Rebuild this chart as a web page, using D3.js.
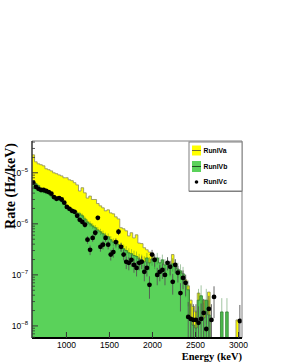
<!DOCTYPE html>
<html>
<head>
<meta charset="utf-8">
<script src="https://cdn.jsdelivr.net/npm/d3@7"></script>
<style>
  body { margin: 0; background: #fff; }
  svg { display: block; }
</style>
</head>
<body>
<svg id="chart" width="281" height="363"></svg>
<script>
// Histogram binning (keV)
const binStart = 600;
const binWidth = 30;

// Rate (Hz/keV) per bin
const runIVa = [
  2.25e-5, 1.64e-5, 1.5e-5, 1.44e-5, 1.37e-5, 1.2e-5, 1.15e-5, 1.09e-5, 1.0e-5, 9.6e-6,
  9.1e-6, 8.7e-6, 8.0e-6, 8.0e-6, 7.3e-6, 7.0e-6, 6.4e-6, 5.8e-6, 4.4e-6, 5.1e-6,
  4.05e-6, 3.2e-6, 3.5e-6, 3.0e-6, 3.0e-6, 2.5e-6, 2.25e-6, 2.06e-6, 1.8e-6, 1.88e-6,
  1.64e-6, 1.57e-6, 1.37e-6, 1.25e-6, 8.4e-7, 8.0e-7, 7.3e-7, 5.8e-7, 6.7e-7, 5.3e-7,
  6.1e-7, 4.2e-7, 4.1e-7, 3.4e-7, 3.1e-7, 2.8e-7, 2.5e-7, 2.15e-7, 1.88e-7, 1.64e-7,
  1.8e-7, 1.5e-7, 1.8e-7, 1.57e-7, 2.5e-7, 1.44e-7, 1.25e-7, 1.15e-7, 9.6e-8, 8.0e-8,
  6.1e-8, 3.2e-8, 2.4e-8, 1.88e-8, 4.4e-8, 1.44e-8, 3.2e-8, 2.06e-8, 4.6e-8, 0,
  0, 0, 0, 0, 0, 0, 0, 0, 0, 1.31e-8,
  0
];

const runIVb = [
  6.7e-6, 6.1e-6, 5.6e-6, 4.85e-6, 4.2e-6, 4.05e-6, 3.9e-6, 3.5e-6, 3.35e-6, 3.2e-6,
  3.1e-6, 2.8e-6, 2.5e-6, 2.25e-6, 2.06e-6, 1.88e-6, 1.8e-6, 1.64e-6, 1.57e-6, 1.44e-6,
  1.25e-6, 1.09e-6, 1.0e-6, 9.1e-7, 8.4e-7, 7.6e-7, 7.0e-7, 6.4e-7, 5.8e-7, 5.6e-7,
  4.9e-7, 4.4e-7, 4.1e-7, 3.9e-7, 3.55e-7, 3.25e-7, 3.0e-7, 2.7e-7, 2.6e-7, 2.4e-7,
  2.3e-7, 2.05e-7, 1.97e-7, 1.8e-7, 2.15e-7, 1.72e-7, 2.05e-7, 1.8e-7, 2.15e-7, 1.72e-7,
  1.97e-7, 1.57e-7, 1.72e-7, 1.37e-7, 1.64e-7, 1.5e-7, 1.3e-7, 1.2e-7, 1.05e-7, 6.7e-8,
  5.1e-8, 1.31e-8, 1.04e-8, 9.1e-9, 3.2e-8, 3.9e-8, 1.44e-8, 3.2e-8, 1.64e-8, 0,
  0, 0, 0, 1.88e-8, 0, 1.88e-8, 0, 0, 0, 0,
  0
];

const runIVc = [
  6.4e-6, 5.3e-6, 4.85e-6, 4.6e-6, 4.6e-6, 4.4e-6, 4.2e-6, 3.9e-6, 3.35e-6, 3.1e-6,
  3.2e-6, 3.0e-6, 2.6e-6, 2.15e-6, 1.97e-6, 1.8e-6, 1.72e-6, 1.44e-6, 1.2e-6, 1.09e-6,
  9.6e-7, 4.9e-7, 3.1e-7, 5.3e-7, 6.7e-7, 1.31e-6, 3.55e-7, 3.9e-7, 5.3e-7, 3.9e-7,
  2.5e-7, 2.8e-7, 4.4e-7, 7.0e-7, 3.55e-7, 2.5e-7, 1.8e-7, 1.72e-7, 1.97e-7, 1.57e-7,
  1.37e-7, 1.72e-7, 1.8e-7, 1.15e-7, 1.37e-7, 6.4e-8, 2.5e-7, 1.97e-7, 1.0e-7, 1.15e-7,
  1.25e-7, 1.0e-7, 1.72e-7, 1.44e-7, 7.3e-8, 1.57e-7, 1.1e-7, 4.4e-8, 8.7e-8, 7.0e-8,
  1.5e-8, 1.37e-8, 1.31e-8, 1.31e-8, 1.15e-8, 1.37e-8, 1.8e-8, 8.7e-9, 2.15e-8, 1.31e-8,
  3.7e-8, 0, 0, 0, 0, 0, 0, 0, 0, 0,
  1.25e-8
];

const xTicks = [1000, 1500, 2000, 2500, 3000];
const yDecades = [-8, -7, -6, -5];
const legendLabels = ['RunIVa', 'RunIVb', 'RunIVc'];

// rate that a single count stands for (sets the sqrt(N) error bars)
const countRate = 1.4e-8;

const colors = {
  yellow: '#ffff00',
  yellowLine: '#8a8a5c',
  green: '#5ad25a',
  greenLine: '#2f7d2f',
  frame: '#808080'
};

const svg = d3.select('#chart');
const frame = { left: 32, right: 242, top: 141, bottom: 338 };

const x = d3.scaleLinear()
  .domain([600, 3040])
  .range([frame.left, frame.right]);

const y = d3.scaleLog()
  .domain([5.8e-9, 4.2e-5])
  .range([frame.bottom, frame.top]);

svg.append('defs').append('clipPath')
  .attr('id', 'frame-clip')
  .append('rect')
  .attr('x', frame.left)
  .attr('y', frame.top)
  .attr('width', frame.right - frame.left)
  .attr('height', frame.bottom - frame.top);

const plot = svg.append('g').attr('clip-path', 'url(#frame-clip)');

const binLo = i => binStart + i * binWidth;
const yOf = v => v > 0 ? y(v) : frame.bottom + 3;

/**
 * Filled histogram with a step outline and sqrt(N) error lines
 */
const drawHist = (values, fill, stroke, errColor) => {
  const g = plot.append('g');
  const floor = frame.bottom + 3;

  // One step-shaped area per run of non-empty bins (avoids seams between rects)
  const area = d3.path();
  let open = false;
  values.forEach((v, i) => {
    const x0 = x(binLo(i));
    const x1 = x(binLo(i) + binWidth);
    if (v > 0) {
      if (!open) { area.moveTo(x0, floor); open = true; }
      area.lineTo(x0, y(v));
      area.lineTo(x1, y(v));
    }
    if (open && (v <= 0 || i === values.length - 1)) {
      area.lineTo(v > 0 ? x1 : x0, floor);
      area.closePath();
      open = false;
    }
  });
  g.append('path')
    .attr('d', area.toString())
    .attr('fill', fill)
    .attr('stroke', 'none');

  const bins = values.map((v, i) => ({ v, i })).filter(d => d.v > 0);
  if (errColor) {
    g.selectAll('line.err')
      .data(bins)
      .join('line')
      .attr('class', 'err')
      .attr('x1', d => x(binLo(d.i) + binWidth / 2))
      .attr('x2', d => x(binLo(d.i) + binWidth / 2))
      .attr('y1', d => y(d.v + Math.sqrt(d.v * countRate)))
      .attr('y2', d => yOf(d.v - Math.sqrt(d.v * countRate)))
      .attr('stroke', errColor)
      .attr('stroke-width', 0.8)
      .attr('opacity', 0.55);
  }

  const path = d3.path();
  values.forEach((v, i) => {
    const x0 = x(binLo(i));
    const x1 = x(binLo(i) + binWidth);
    const yy = yOf(v);
    if (i === 0) path.moveTo(x0, yy); else path.lineTo(x0, yy);
    path.lineTo(x1, yy);
  });
  g.append('path')
    .attr('d', path.toString())
    .attr('fill', 'none')
    .attr('stroke', stroke)
    .attr('stroke-width', 0.8);
};

drawHist(runIVa, colors.yellow, colors.yellowLine, null);
drawHist(runIVb, colors.green, colors.greenLine, colors.greenLine);

// RunIVc points with error bars
const points = runIVc.map((v, i) => ({ v, i })).filter(d => d.v > 0);
const pointGroup = plot.append('g');

pointGroup.selectAll('line.err')
  .data(points)
  .join('line')
  .attr('class', 'err')
  .attr('x1', d => x(binLo(d.i) + binWidth / 2))
  .attr('x2', d => x(binLo(d.i) + binWidth / 2))
  .attr('y1', d => y(d.v + Math.sqrt(d.v * countRate)))
  .attr('y2', d => yOf(d.v - Math.sqrt(d.v * countRate)))
  .attr('stroke', '#555')
  .attr('stroke-width', 0.9);

pointGroup.selectAll('circle')
  .data(points)
  .join('circle')
  .attr('cx', d => x(binLo(d.i) + binWidth / 2))
  .attr('cy', d => y(d.v))
  .attr('r', 2.4)
  .attr('fill', '#000');

// Frame: grey top / right, dark axes on left / bottom
svg.append('line')
  .attr('x1', frame.left).attr('x2', frame.right)
  .attr('y1', frame.top).attr('y2', frame.top)
  .attr('stroke', colors.frame).attr('stroke-width', 1);
svg.append('line')
  .attr('x1', frame.right).attr('x2', frame.right)
  .attr('y1', frame.top).attr('y2', frame.bottom)
  .attr('stroke', colors.frame).attr('stroke-width', 1);

// X axis
const xAxis = svg.append('g');
xAxis.append('line')
  .attr('x1', frame.left).attr('x2', frame.right)
  .attr('y1', frame.bottom).attr('y2', frame.bottom)
  .attr('stroke', '#000').attr('stroke-width', 1.8);
xAxis.selectAll('line.tick')
  .data(xTicks)
  .join('line')
  .attr('class', 'tick')
  .attr('x1', d => x(d)).attr('x2', d => x(d))
  .attr('y1', frame.bottom).attr('y2', frame.bottom - 6)
  .attr('stroke', '#333').attr('stroke-width', 1);
xAxis.selectAll('text')
  .data(xTicks)
  .join('text')
  .attr('x', d => x(d))
  .attr('y', 347.5)
  .attr('text-anchor', 'middle')
  .style('font-family', '"Liberation Sans", Arial, sans-serif')
  .style('font-size', '8.5px')
  .text(d => d);

svg.append('text')
  .attr('x', frame.right)
  .attr('y', 359.5)
  .attr('text-anchor', 'end')
  .style('font-family', '"Liberation Serif", "Times New Roman", serif')
  .style('font-weight', 'bold')
  .style('font-size', '10.5px')
  .text('Energy (keV)');

// Y axis (log)
const yAxis = svg.append('g');
yAxis.append('line')
  .attr('x1', frame.left).attr('x2', frame.left)
  .attr('y1', frame.top).attr('y2', frame.bottom)
  .attr('stroke', '#333').attr('stroke-width', 1.5);

const minorTicks = [];
for (let e = -9; e <= -5; e++) {
  for (let m = 2; m <= 9; m++) {
    const v = m * Math.pow(10, e);
    if (v > y.domain()[0] && v < y.domain()[1]) minorTicks.push(v);
  }
}
yAxis.selectAll('line.minor')
  .data(minorTicks)
  .join('line')
  .attr('class', 'minor')
  .attr('x1', frame.left).attr('x2', frame.left + 3)
  .attr('y1', d => y(d)).attr('y2', d => y(d))
  .attr('stroke', '#333').attr('stroke-width', 0.8);
yAxis.selectAll('line.major')
  .data(yDecades)
  .join('line')
  .attr('class', 'major')
  .attr('x1', frame.left).attr('x2', frame.left + 6)
  .attr('y1', d => y(Math.pow(10, d))).attr('y2', d => y(Math.pow(10, d)))
  .attr('stroke', '#333').attr('stroke-width', 1);

const yLabels = yAxis.selectAll('text.ylab')
  .data(yDecades)
  .join('text')
  .attr('class', 'ylab')
  .attr('x', 28)
  .attr('y', d => y(Math.pow(10, d)) + 3)
  .attr('text-anchor', 'end')
  .style('font-family', '"Liberation Sans", Arial, sans-serif')
  .style('font-size', '8.5px');
yLabels.append('tspan').text('10');
yLabels.append('tspan')
  .attr('dy', -4)
  .style('font-size', '6px')
  .text(d => '\u2212' + Math.abs(d));

svg.append('text')
  .attr('transform', `translate(15, ${frame.top + 2}) rotate(-90)`)
  .attr('text-anchor', 'end')
  .style('font-family', '"Liberation Serif", "Times New Roman", serif')
  .style('font-weight', 'bold')
  .style('font-size', '14px')
  .text('Rate (Hz/keV)');

// Legend
const legend = svg.append('g').attr('transform', 'translate(189, 142)');
legend.append('rect')
  .attr('width', 53).attr('height', 49)
  .attr('fill', '#fff')
  .attr('stroke', colors.frame).attr('stroke-width', 1);
legend.append('line')
  .attr('x1', 0).attr('x2', 53).attr('y1', 49.5).attr('y2', 49.5)
  .attr('stroke', colors.frame).attr('stroke-width', 1.2);

const rowY = [8.5, 24.5, 40];
legend.append('rect')
  .attr('x', 3).attr('y', rowY[0] - 5).attr('width', 9).attr('height', 10)
  .attr('fill', colors.yellow);
legend.append('line')
  .attr('x1', 3).attr('x2', 12).attr('y1', rowY[0]).attr('y2', rowY[0])
  .attr('stroke', '#6e6e30').attr('stroke-width', 1);
legend.append('rect')
  .attr('x', 3).attr('y', rowY[1] - 5.5).attr('width', 9).attr('height', 11)
  .attr('fill', colors.green);
legend.append('line')
  .attr('x1', 3).attr('x2', 12).attr('y1', rowY[1]).attr('y2', rowY[1])
  .attr('stroke', '#1f4f1f').attr('stroke-width', 1);
legend.append('circle')
  .attr('cx', 7.5).attr('cy', rowY[2]).attr('r', 1.8)
  .attr('fill', '#000');

legend.selectAll('text')
  .data(legendLabels)
  .join('text')
  .attr('x', 14.5)
  .attr('y', (d, i) => rowY[i] + 2.3)
  .style('font-family', '"Liberation Sans", Arial, sans-serif')
  .style('font-weight', 'bold')
  .style('font-size', '6.8px')
  .text(d => d);
</script>
</body>
</html>
